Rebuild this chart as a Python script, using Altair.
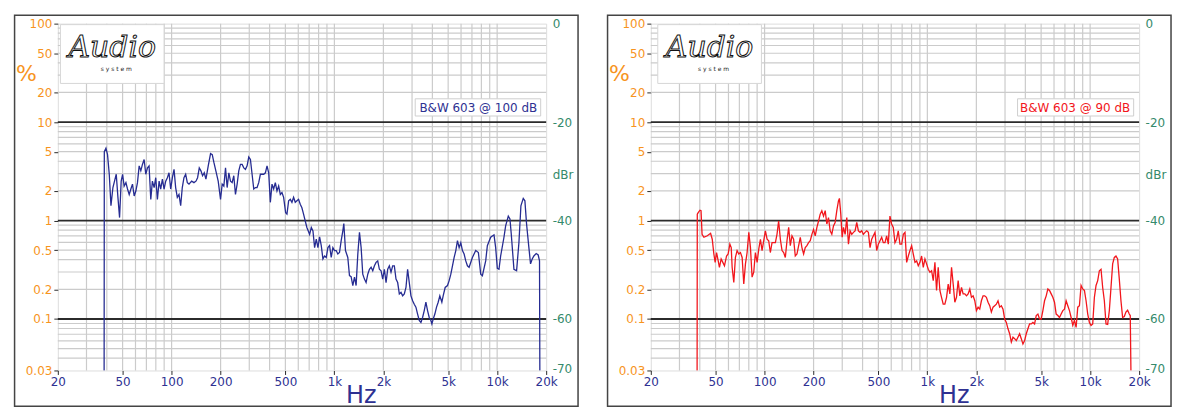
import math
import altair as alt
import pandas as pd

# ---------------- data ----------------
BLUE_HZ = [
    38.5, 38.6, 39.5, 40.4, 41.4, 42.4, 43.6, 44.6, 45.7, 46.8,
    47.9, 49.0, 50.0, 51.1, 52.4, 53.6, 54.9, 56.2, 57.5, 58.9,
    60.3, 61.7, 63.2, 64.7, 66.2, 67.8, 69.4, 71.1, 72.7, 74.5,
    76.2, 78.1, 79.9, 81.8, 83.8, 85.7, 87.8, 89.9, 92.0, 94.2,
    96.4, 98.7, 101.1, 103.5, 105.9, 108.4, 111.0, 113.7, 116.3, 119.1,
    122.0, 124.9, 127.9, 132.8, 137.2, 141.1, 144.4, 147.9, 151.4, 155.0,
    158.7, 162.5, 167.9, 173.5, 177.7, 181.9, 187.0, 193.3, 199.8, 204.5,
    209.4, 214.4, 219.4, 224.7, 230.0, 235.5, 241.0, 246.8, 252.7, 258.6,
    264.8, 271.2, 277.6, 284.2, 290.9, 297.9, 304.9, 312.2, 319.6, 327.2,
    334.9, 342.9, 351.1, 359.4, 367.9, 376.8, 385.7, 394.8, 404.2, 413.8,
    423.6, 433.7, 444.0, 454.6, 465.4, 476.4, 487.7, 501.8, 511.3, 523.5,
    535.9, 548.6, 561.6, 575.0, 588.7, 602.6, 617.0, 631.6, 646.6, 662.1,
    677.8, 704.6, 721.4, 738.5, 756.1, 774.0, 792.4, 811.3, 830.6, 850.3,
    870.5, 891.2, 912.4, 934.1, 956.3, 979.0, 1002, 1026, 1050, 1075,
    1101, 1127, 1143, 1170, 1209, 1238, 1267, 1298, 1329, 1360,
    1393, 1426, 1460, 1494, 1530, 1566, 1604, 1642, 1681, 1721,
    1762, 1803, 1846, 1890, 1935, 1981, 2028, 2077, 2126, 2176,
    2228, 2281, 2335, 2391, 2448, 2506, 2566, 2626, 2689, 2753,
    2818, 2885, 2954, 3024, 3096, 3169, 3245, 3322, 3401, 3482,
    3565, 3649, 3736, 3825, 3916, 3972, 4047, 4143, 4242, 4342,
    4445, 4573, 4659, 4793, 4953, 5071, 5192, 5315, 5442, 5571,
    5704, 5839, 5978, 6120, 6266, 6414, 6567, 6723, 7046, 7385,
    7668, 7924, 8113, 8503, 8705, 9124, 9563, 9790, 10023, 10261,
    10505, 11011, 11274, 11705, 11983, 12211, 12678, 13164, 13604, 13993,
    14461, 14806, 15158, 15665, 16036, 16418, 16808, 17371, 17868, 18208,
    18290,
]
BLUE_DBR = [
    -70.5, -26.0, -25.3, -26.6, -30.6, -37.0, -33.3, -32.0, -30.6, -35.3,
    -39.4, -32.0, -30.6, -33.0, -32.3, -33.6, -34.7, -33.6, -32.6, -35.0,
    -34.0, -32.3, -28.9, -29.9, -28.6, -27.6, -30.6, -29.3, -28.9, -35.7,
    -32.0, -33.3, -31.3, -35.7, -32.0, -33.6, -31.6, -33.6, -32.0, -31.3,
    -30.3, -33.6, -31.3, -29.6, -33.3, -35.3, -34.7, -37.0, -33.3, -31.3,
    -30.6, -32.3, -32.6, -32.0, -32.3, -32.0, -31.3, -29.3, -29.9, -30.9,
    -30.3, -31.6, -28.9, -26.4, -26.6, -28.2, -29.9, -32.0, -35.7, -32.6,
    -33.0, -29.3, -33.3, -30.3, -32.0, -32.3, -30.9, -34.7, -32.6, -29.9,
    -28.6, -28.6, -29.3, -29.6, -28.9, -27.1, -27.6, -30.6, -33.6, -33.3,
    -33.3, -32.3, -30.6, -30.6, -30.6, -30.3, -28.9, -30.3, -36.3, -32.6,
    -33.6, -32.3, -34.0, -33.0, -34.7, -34.3, -35.3, -38.4, -38.7, -36.0,
    -35.7, -36.3, -35.3, -36.3, -36.0, -35.7, -36.7, -37.4, -38.7, -40.1,
    -41.4, -42.8, -41.4, -42.1, -45.5, -43.8, -45.5, -43.3, -45.1, -47.8,
    -47.2, -47.5, -45.5, -45.1, -47.5, -45.5, -46.1, -46.1, -46.8, -46.5,
    -44.1, -42.1, -40.6, -46.1, -47.5, -51.2, -51.4, -53.2, -51.5, -53.2,
    -46.8, -42.4, -45.5, -50.9, -51.9, -52.6, -50.9, -49.9, -49.5, -50.2,
    -49.2, -48.5, -48.2, -49.9, -50.2, -51.9, -49.9, -52.6, -49.9, -49.2,
    -50.5, -49.2, -49.2, -51.9, -52.6, -54.9, -54.6, -55.3, -54.9, -53.6,
    -49.9, -52.6, -55.3, -56.3, -57.0, -57.6, -59.0, -60.3, -60.7, -59.7,
    -58.3, -56.6, -58.3, -59.7, -60.3, -61.0, -60.0, -59.0, -57.6, -56.6,
    -55.3, -56.6, -55.3, -53.6, -53.2, -52.2, -50.9, -49.2, -47.5, -46.1,
    -44.1, -45.5, -44.5, -46.1, -46.8, -48.2, -49.2, -49.5, -47.5, -46.1,
    -46.5, -50.9, -51.2, -48.2, -45.1, -43.4, -42.9, -45.5, -49.7, -49.9,
    -47.2, -43.4, -41.1, -39.1, -39.7, -42.8, -49.9, -50.2, -44.5, -37.0,
    -35.5, -36.0, -40.7, -45.5, -48.8, -47.8, -47.2, -46.7, -47.0, -48.2,
    -70.5,
]

RED_HZ = [
    38.5, 38.6, 39.1, 40.1, 40.7, 41.3, 42.4, 44.5, 46.6, 47.7,
    48.8, 49.7, 50.7, 51.9, 52.8, 54.1, 55.4, 56.7, 58.4, 59.7,
    61.2, 62.4, 63.2, 64.7, 66.2, 67.8, 69.4, 71.1, 72.8, 74.5,
    76.3, 78.1, 80.0, 81.9, 83.8, 85.8, 87.8, 90.0, 92.1, 94.3,
    96.5, 98.8, 101.2, 103.6, 106.0, 108.5, 111.1, 113.8, 116.5, 119.2,
    122.0, 125.0, 128.0, 131.0, 134.1, 137.3, 140.6, 143.9, 147.3, 150.8,
    154.4, 158.1, 161.9, 165.7, 169.6, 173.7, 177.8, 182.0, 186.3, 190.8,
    195.3, 199.9, 204.7, 209.6, 214.6, 219.6, 224.8, 230.2, 235.7, 241.3,
    247.0, 252.9, 258.9, 265.0, 271.3, 277.8, 284.4, 288.3, 293.9, 299.6,
    305.2, 312.5, 319.9, 327.5, 335.2, 343.2, 351.4, 359.7, 368.3, 377.1,
    386.0, 395.2, 404.6, 414.2, 424.1, 434.2, 444.5, 455.1, 465.8, 476.9,
    488.3, 499.9, 511.8, 524.0, 536.4, 549.2, 562.2, 575.6, 589.1, 603.1,
    617.6, 632.3, 647.2, 662.6, 678.5, 695.4, 711.9, 728.8, 746.2, 764.0,
    782.1, 800.7, 819.7, 839.2, 859.2, 879.6, 900.5, 921.9, 943.9, 966.4,
    989.3, 1013, 1037, 1062, 1087, 1113, 1139, 1166, 1194, 1222,
    1251, 1281, 1312, 1343, 1375, 1408, 1441, 1475, 1510, 1546,
    1583, 1621, 1659, 1699, 1739, 1780, 1823, 1866, 1910, 1956,
    2002, 2050, 2098, 2148, 2199, 2251, 2305, 2360, 2416, 2473,
    2532, 2592, 2654, 2717, 2782, 2848, 2916, 2985, 3056, 3129,
    3203, 3279, 3357, 3437, 3519, 3602, 3688, 3776, 3866, 3958,
    4052, 4148, 4247, 4348, 4451, 4557, 4666, 4777, 4890, 5006,
    5125, 5247, 5372, 5499, 5630, 5764, 5901, 6041, 6185, 6332,
    6483, 6637, 6795, 6957, 7122, 7292, 7465, 7643, 7824, 8010,
    8200, 8395, 8595, 8799, 9009, 9223, 9442, 9667, 9897, 10132,
    10373, 10620, 10872, 11131, 11395, 11666, 11943, 12227, 12518, 12815,
    13121, 13433, 13752, 14079, 14413, 14756, 15107, 15466, 15834, 16211,
    16596, 16991, 17394, 17640, 17808,
]
RED_DBR = [
    -70.5, -38.7, -38.4, -37.9, -38.0, -42.8, -43.4, -43.1, -42.6, -43.8,
    -46.8, -48.5, -46.5, -48.2, -49.5, -47.8, -48.5, -49.2, -47.2, -46.8,
    -44.8, -45.5, -49.5, -52.6, -47.5, -46.1, -46.8, -46.5, -47.5, -52.9,
    -48.8, -46.5, -42.4, -45.5, -51.5, -50.5, -46.5, -48.5, -45.8, -43.8,
    -46.1, -44.1, -42.1, -43.8, -44.1, -46.5, -44.5, -44.5, -44.5, -42.8,
    -40.1, -43.8, -46.1, -46.5, -47.5, -44.1, -41.4, -45.1, -43.1, -43.8,
    -47.2, -46.8, -45.1, -43.4, -45.5, -46.8, -45.5, -45.1, -44.5, -44.1,
    -42.8, -41.8, -43.1, -41.4, -40.1, -38.7, -38.0, -39.1, -38.0, -40.7,
    -39.4, -42.1, -42.8, -41.1, -40.4, -38.0, -36.0, -35.5, -38.7, -43.4,
    -41.4, -42.8, -39.4, -44.8, -42.1, -42.8, -42.4, -42.1, -40.4, -42.1,
    -42.4, -42.1, -42.8, -42.4, -42.1, -42.4, -45.5, -43.8, -43.1, -42.4,
    -46.1, -44.8, -44.1, -43.4, -44.5, -44.5, -43.1, -44.8, -39.1, -40.7,
    -41.4, -44.5, -43.8, -42.1, -44.8, -44.8, -42.8, -42.4, -48.5, -47.2,
    -46.1, -45.1, -46.8, -48.5, -48.2, -49.2, -48.5, -47.2, -49.5, -47.8,
    -48.8, -49.9, -50.5, -50.2, -52.2, -48.5, -54.2, -49.5, -54.2, -55.6,
    -57.0, -57.0, -55.6, -52.9, -54.9, -49.5, -52.9, -56.6, -55.6, -52.2,
    -55.3, -53.6, -54.9, -54.9, -55.3, -54.9, -53.9, -55.6, -55.3, -56.3,
    -58.3, -57.6, -58.0, -56.3, -55.3, -55.3, -55.6, -56.6, -57.3, -58.6,
    -57.6, -57.3, -57.0, -56.3, -57.6, -57.3, -58.0, -60.0, -60.7, -62.0,
    -63.0, -64.7, -63.7, -64.0, -64.4, -63.7, -63.0, -64.0, -65.1, -64.4,
    -63.0, -62.0, -61.0, -61.0, -60.7, -61.0, -59.3, -59.0, -60.0, -60.0,
    -58.3, -56.3, -55.3, -53.9, -54.2, -54.9, -55.6, -56.6, -59.0, -59.3,
    -59.7, -59.0, -58.3, -58.0, -56.3, -57.3, -58.3, -59.7, -61.3, -60.3,
    -61.7, -57.6, -57.3, -53.2, -53.9, -54.2, -56.3, -59.0, -60.7, -61.3,
    -61.0, -55.6, -53.2, -52.2, -50.2, -49.9, -53.6, -56.3, -61.0, -61.1,
    -58.3, -53.6, -48.8, -47.5, -47.2, -47.8, -51.9, -56.3, -59.7, -59.5,
    -58.6, -58.2, -59.0, -59.3, -70.5,
]

LABELS = ["B&W 603 @ 100 dB", "B&W 603 @ 90 dB"]

HZ_TICKS = [20, 50, 100, 200, 500, 1000, 2000, 5000, 10000, 20000]
PCT_TICKS = [0.03, 0.1, 0.2, 0.5, 1, 2, 5, 10, 20, 50, 100]
DBR_TICKS = [0, -20, -40, -60, -70]
GRID_HZ = [30, 40, 50, 60, 70, 80, 90, 100, 200, 300, 400, 500, 600, 700, 800, 900,
           1000, 2000, 3000, 4000, 5000, 6000, 7000, 8000, 9000, 10000]
GRID_PCT = [0.04, 0.05, 0.06, 0.07, 0.08, 0.09, 0.2, 0.3, 0.4, 0.5, 0.6, 0.7, 0.8, 0.9,
            2, 3, 4, 5, 6, 7, 8, 9, 20, 30, 40, 50, 60, 70, 80, 90]
MAJOR_PCT = [0.1, 1, 10]

assert len(BLUE_HZ) == len(BLUE_DBR)
assert len(RED_HZ) == len(RED_DBR)

# ---------------- styling ----------------
FONT = "DejaVu Sans"
ORANGE = "#F7941D"
NAVY = "#2E3192"
TEAL = "#358A6B"
GRID = "#cbcbcb"
DARK = "#2b2b2b"
W, H = 490, 348
DB_MIN = 20 * math.log10(0.03 / 100)

one = pd.DataFrame({"k": [0]})


def panel(hz, dbr, line_color, label, label_color, logo_x, box_x):
    x_scale = alt.Scale(type="log", domain=[20, 20000], nice=False)
    pct_scale = alt.Scale(type="log", domain=[0.03, 100], nice=False)
    db_scale = alt.Scale(type="linear", domain=[DB_MIN, 0], nice=False, zero=False)

    x_axis = alt.Axis(
        values=HZ_TICKS, grid=False, domain=False, ticks=True, tickSize=4,
        tickColor=DARK, labelColor=NAVY, labelFont=FONT, labelFontSize=12,
        labelPadding=2, labelFlush=False, labelOverlap=False,
        labelExpr="datum.value >= 1000 ? (datum.value / 1000) + 'k' : '' + datum.value",
        title="Hz", titleColor=NAVY, titleFont=FONT, titleFontSize=24,
        titleFontWeight="normal", titleX=304, titleY=32, titleAlign="center",
        titleBaseline="alphabetic",
    )
    pct_axis = alt.Axis(
        orient="left", values=PCT_TICKS, grid=False, domain=False, ticks=True,
        tickSize=4, tickColor=DARK, labelColor=ORANGE, labelFont=FONT,
        labelFontSize=12, labelPadding=2, labelFlush=False, labelOverlap=False,
        labelExpr="'' + datum.value",
        title="%", titleColor=ORANGE, titleFont=FONT, titleFontSize=22,
        titleFontWeight="normal", titleAngle=0, titleX=-32, titleY=50,
        titleAlign="center", titleBaseline="middle",
    )
    db_axis = alt.Axis(
        orient="right", values=DBR_TICKS, grid=False, domain=False, ticks=False,
        labelPadding=6, labelColor=TEAL, labelFont=FONT, labelFontSize=12,
        labelFlush=False, labelOverlap=False, labelExpr="'' + datum.value",
        title="dBr", titleColor=TEAL, titleFont=FONT, titleFontSize=12,
        titleFontWeight="normal", titleAngle=0, titleX=6, titleY=151,
        titleAlign="left", titleBaseline="middle",
    )

    vgrid = alt.Chart(pd.DataFrame({"f": GRID_HZ})).mark_rule(
        color=GRID, strokeWidth=1.2).encode(
        x=alt.X("f:Q", scale=x_scale, axis=x_axis))
    hgrid = alt.Chart(pd.DataFrame({"p": GRID_PCT + MAJOR_PCT,
                                    "major": [0] * len(GRID_PCT) + [1] * len(MAJOR_PCT)})
                      ).mark_rule().encode(
        y=alt.Y("p:Q", scale=pct_scale, axis=pct_axis),
        color=alt.Color("major:N", scale=alt.Scale(domain=[0, 1], range=[GRID, DARK]), legend=None),
        strokeWidth=alt.StrokeWidth("major:N", scale=alt.Scale(domain=[0, 1], range=[1.2, 1.8]), legend=None),
        order="major:Q")

    df = pd.DataFrame({"f": hz, "db": dbr, "i": list(range(len(hz)))})
    curve = alt.Chart(df).mark_line(
        color=line_color, strokeWidth=1.3, clip=True).encode(
        x=alt.X("f:Q", scale=x_scale, axis=x_axis),
        y=alt.Y("db:Q", scale=db_scale, axis=db_axis),
        order="i:Q")

    frame = alt.Chart(one).mark_rect(
        fillOpacity=0, stroke="#444444", strokeWidth=1.5).encode(
        x=alt.value(-43.4), x2=alt.value(W + 32), y=alt.value(-8.3), y2=alt.value(H + 36))
    logo_box = alt.Chart(one).mark_rect(
        fill="#ffffff", stroke="#d6d6d6", strokeWidth=1).encode(
        x=alt.value(logo_x), x2=alt.value(logo_x + 104), y=alt.value(1), y2=alt.value(60))
    logo_text = alt.Chart(one).mark_text(
        text="Audio", font="DejaVu Serif", fontSize=30, fontStyle="italic",
        fill="#ffffff", stroke="#111111", strokeWidth=1, align="center",
        baseline="middle").encode(x=alt.value(logo_x + 52), y=alt.value(24))
    logo_sub = alt.Chart(one).mark_text(
        text="s  y  s  t  e  m", font=FONT, fontSize=6, color="#222222",
        align="center", baseline="middle").encode(
        x=alt.value(logo_x + 56), y=alt.value(46))
    lab_box = alt.Chart(one).mark_rect(
        fill="#ffffff", stroke="#cfcfcf", strokeWidth=1).encode(
        x=alt.value(box_x), x2=alt.value(W - 5.5), y=alt.value(75.4), y2=alt.value(92.7))
    lab_text = alt.Chart(one).mark_text(
        text=label, font=FONT, fontSize=12, color=label_color, align="right",
        baseline="middle").encode(x=alt.value(W - 9), y=alt.value(84.5))

    return alt.layer(vgrid, hgrid, curve, frame, logo_box, logo_text, logo_sub,
                     lab_box, lab_text).resolve_scale(
        y="independent", color="independent", strokeWidth="independent"
    ).properties(width=W, height=H)


left = panel(BLUE_HZ, BLUE_DBR, "#262C92", LABELS[0], NAVY, 2.6, 358.6)
right = panel(RED_HZ, RED_DBR, "#F2161C", LABELS[1], "#F2161C", 7, 368)

chart = alt.hconcat(left, right, spacing=26).configure_view(
    stroke=DARK, strokeWidth=1.8).configure(background="#ffffff", padding=5)

chart.save("out.html", embed_options={"renderer": "svg", "actions": False})
